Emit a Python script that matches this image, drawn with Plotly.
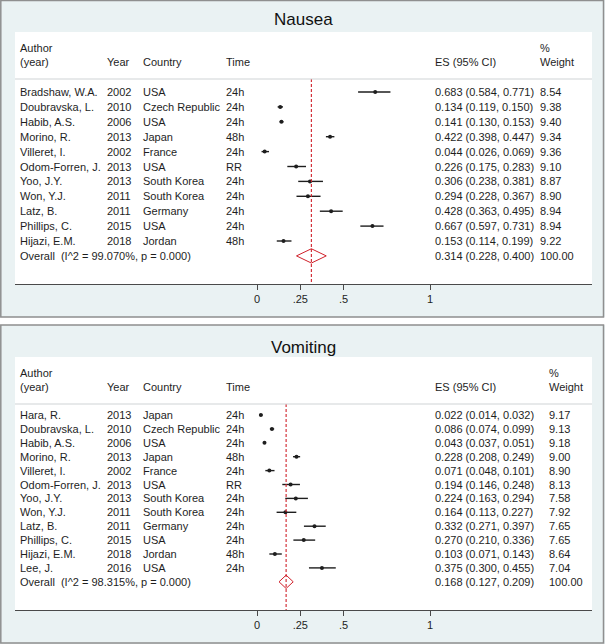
import plotly.graph_objects as go

# ---------------- data ----------------
nausea_authors = ["Bradshaw, W.A.", "Doubravska, L.", "Habib, A.S.", "Morino, R.", "Villeret, I.",
                  "Odom-Forren, J.", "Yoo, J.Y.", "Won, Y.J.", "Latz, B.", "Phillips, C.", "Hijazi, E.M."]
nausea_years = ["2002", "2010", "2006", "2013", "2002", "2013", "2013", "2011", "2011", "2015", "2018"]
nausea_countries = ["USA", "Czech Republic", "USA", "Japan", "France", "USA", "South Korea",
                    "South Korea", "Germany", "USA", "Jordan"]
nausea_times = ["24h", "24h", "24h", "48h", "24h", "RR", "24h", "24h", "24h", "24h", "48h"]
nausea_es = [0.683, 0.134, 0.141, 0.422, 0.044, 0.226, 0.306, 0.294, 0.428, 0.667, 0.153]
nausea_lo = [0.584, 0.119, 0.130, 0.398, 0.026, 0.175, 0.238, 0.228, 0.363, 0.597, 0.114]
nausea_hi = [0.771, 0.150, 0.153, 0.447, 0.069, 0.283, 0.381, 0.367, 0.495, 0.731, 0.199]
nausea_weight = ["8.54", "9.38", "9.40", "9.34", "9.36", "9.10", "8.87", "8.90", "8.94", "8.94", "9.22"]
nausea_overall = [0.314, 0.228, 0.400]
nausea_overall_label = "Overall\u00a0\u00a0(I^2 = 99.070%, p = 0.000)"

vomit_authors = ["Hara, R.", "Doubravska, L.", "Habib, A.S.", "Morino, R.", "Villeret, I.",
                 "Odom-Forren, J.", "Yoo, J.Y.", "Won, Y.J.", "Latz, B.", "Phillips, C.",
                 "Hijazi, E.M.", "Lee, J."]
vomit_years = ["2013", "2010", "2006", "2013", "2002", "2013", "2013", "2011", "2011", "2015", "2018", "2016"]
vomit_countries = ["Japan", "Czech Republic", "USA", "Japan", "France", "USA", "South Korea",
                   "South Korea", "Germany", "USA", "Jordan", "USA"]
vomit_times = ["24h", "24h", "24h", "48h", "24h", "RR", "24h", "24h", "24h", "24h", "48h", "24h"]
vomit_es = [0.022, 0.086, 0.043, 0.228, 0.071, 0.194, 0.224, 0.164, 0.332, 0.270, 0.103, 0.375]
vomit_lo = [0.014, 0.074, 0.037, 0.208, 0.048, 0.146, 0.163, 0.113, 0.271, 0.210, 0.071, 0.300]
vomit_hi = [0.032, 0.099, 0.051, 0.249, 0.101, 0.248, 0.294, 0.227, 0.397, 0.336, 0.143, 0.455]
vomit_weight = ["9.17", "9.13", "9.18", "9.00", "8.90", "8.13", "7.58", "7.92", "7.65", "7.65", "8.64", "7.04"]
vomit_overall = [0.168, 0.127, 0.209]
vomit_overall_label = "Overall\u00a0\u00a0(I^2 = 98.315%, p = 0.000)"

tick_vals = [0, 0.25, 0.5, 1]
tick_text = ["0", ".25", ".5", "1"]

# ---------------- style ----------------
W, H = 605, 644
FONT = "Liberation Sans, Arial, Helvetica, sans-serif"
TXT = "#1e1e1e"
BG = "#eaf2f3"
RED = "#d0202a"
BORDER = "#8f8f8f"
XRANGE = [-1.399, 1.936]


def fx(p):
    return p / W


def fy(p):
    return 1 - p / H


panels = [
    dict(title="Nausea", authors=nausea_authors, years=nausea_years, countries=nausea_countries,
         times=nausea_times, es=nausea_es, lo=nausea_lo, hi=nausea_hi, weight=nausea_weight,
         overall=nausea_overall, overall_label=nausea_overall_label,
         xa="x", ya="y", xkey="xaxis", ykey="yaxis",
         top=32, bottom=284, row0=92, step=14.9, title_y=20, weight_x=540,
         box=(0.5, 317)),
    dict(title="Vomiting", authors=vomit_authors, years=vomit_years, countries=vomit_countries,
         times=vomit_times, es=vomit_es, lo=vomit_lo, hi=vomit_hi, weight=vomit_weight,
         overall=vomit_overall, overall_label=vomit_overall_label,
         xa="x2", ya="y2", xkey="xaxis2", ykey="yaxis2",
         top=357, bottom=610, row0=415, step=13.9, title_y=347, weight_x=549,
         box=(325, 643)),
]

fig = go.Figure()
annotations = []
shapes = []
layout_axes = {}

# white gap between panels
shapes.append(dict(type="rect", xref="paper", yref="paper", x0=0, x1=1,
                   y0=fy(325), y1=fy(317), fillcolor="white", line=dict(width=0), layer="below"))

for P in panels:
    n = len(P["authors"])
    yr_bottom = (P["bottom"] - P["row0"]) / P["step"]
    yr_top = (P["top"] - P["row0"]) / P["step"]
    hdr1 = (P["top"] + 16 - P["row0"]) / P["step"]
    hdr2 = (P["top"] + 30 - P["row0"]) / P["step"]
    sep = (P["top"] + 47 - P["row0"]) / P["step"]

    rows = list(range(n))

    # study estimates with CI
    fig.add_trace(go.Scatter(
        x=P["es"], y=rows, xaxis=P["xa"], yaxis=P["ya"], mode="markers",
        marker=dict(color=TXT, size=4),
        error_x=dict(type="data", symmetric=False,
                     array=[h - e for h, e in zip(P["hi"], P["es"])],
                     arrayminus=[e - l for e, l in zip(P["es"], P["lo"])],
                     thickness=1.4, width=0, color=TXT),
        showlegend=False, hoverinfo="skip"))

    # overall diamond
    est, lo, hi = P["overall"]
    fig.add_trace(go.Scatter(
        x=[lo, est, hi, est, lo], y=[n, n - 0.48, n, n + 0.48, n],
        xaxis=P["xa"], yaxis=P["ya"], mode="lines",
        line=dict(color=RED, width=1), showlegend=False, hoverinfo="skip"))

    # dashed overall line
    shapes.append(dict(type="line", xref=P["xa"], yref=P["ya"], x0=est, x1=est,
                       y0=sep, y1=yr_bottom, line=dict(color=RED, width=1.1, dash="3px,2px")))
    # header separator
    shapes.append(dict(type="line", xref=P["xa"] + " domain", yref=P["ya"], x0=0, x1=1,
                       y0=sep, y1=sep, line=dict(color="#cfd3d5", width=1)))
    # panel frame
    shapes.append(dict(type="rect", xref="paper", yref="paper",
                       x0=fx(0.8), x1=fx(W - 1.5), y0=fy(P["box"][1]), y1=fy(P["box"][0]),
                       line=dict(color=BORDER, width=1.5), fillcolor="rgba(0,0,0,0)", layer="below"))

    cols = [(20, P["authors"]), (107, P["years"]), (143, P["countries"]), (226, P["times"])]
    es_text = ["%.3f (%.3f, %.3f)" % (e, l, h) for e, l, h in zip(P["es"], P["lo"], P["hi"])]
    cols += [(435, es_text), (P["weight_x"], P["weight"])]

    def add(x_px, y_val, text, size=11):
        annotations.append(dict(xref="paper", yref=P["ya"], x=fx(x_px), y=y_val, text=text,
                                showarrow=False, xanchor="left", yanchor="middle",
                                font=dict(family=FONT, size=size, color=TXT), borderpad=0))

    for xp, vals in cols:
        for i, v in enumerate(vals):
            add(xp - 1, i, v)
    add(19, n, P["overall_label"])
    add(434, n, "%.3f (%.3f, %.3f)" % (est, lo, hi))
    add(P["weight_x"] - 1, n, "100.00")

    # headers
    add(19, hdr1, "Author")
    add(19, hdr2, "(year)")
    add(106, hdr2, "Year")
    add(142, hdr2, "Country")
    add(225, hdr2, "Time")
    add(434, hdr2, "ES (95% CI)")
    add(P["weight_x"] - 1, hdr1, "%")
    add(P["weight_x"] - 1, hdr2, "Weight")

    # title
    annotations.append(dict(xref="paper", yref="paper", x=fx(303), y=fy(P["title_y"]),
                            text=P["title"], showarrow=False, xanchor="center", yanchor="middle",
                            font=dict(family=FONT, size=17, color="#111111")))

    layout_axes[P["xkey"]] = dict(
        domain=[fx(15), fx(592)], range=XRANGE, anchor=P["ya"],
        showline=True, linecolor="#4a4a4a", linewidth=1, mirror=False,
        ticks="outside", ticklen=5, tickcolor="#4a4a4a", tickwidth=1,
        tickvals=tick_vals, ticktext=tick_text,
        tickfont=dict(family=FONT, size=11, color=TXT),
        showgrid=False, zeroline=False, fixedrange=True)
    layout_axes[P["ykey"]] = dict(
        domain=[fy(P["bottom"]), fy(P["top"])], range=[yr_bottom, yr_top], anchor=P["xa"],
        visible=False, showgrid=False, zeroline=False, fixedrange=True)

fig.update_layout(
    width=W, height=H, margin=dict(l=0, r=0, t=0, b=0),
    paper_bgcolor=BG, plot_bgcolor="white",
    annotations=annotations, shapes=shapes, showlegend=False,
    **layout_axes)

fig.write_html("out.html", config={"displayModeBar": False},
               post_script="document.body.style.margin='0';")
